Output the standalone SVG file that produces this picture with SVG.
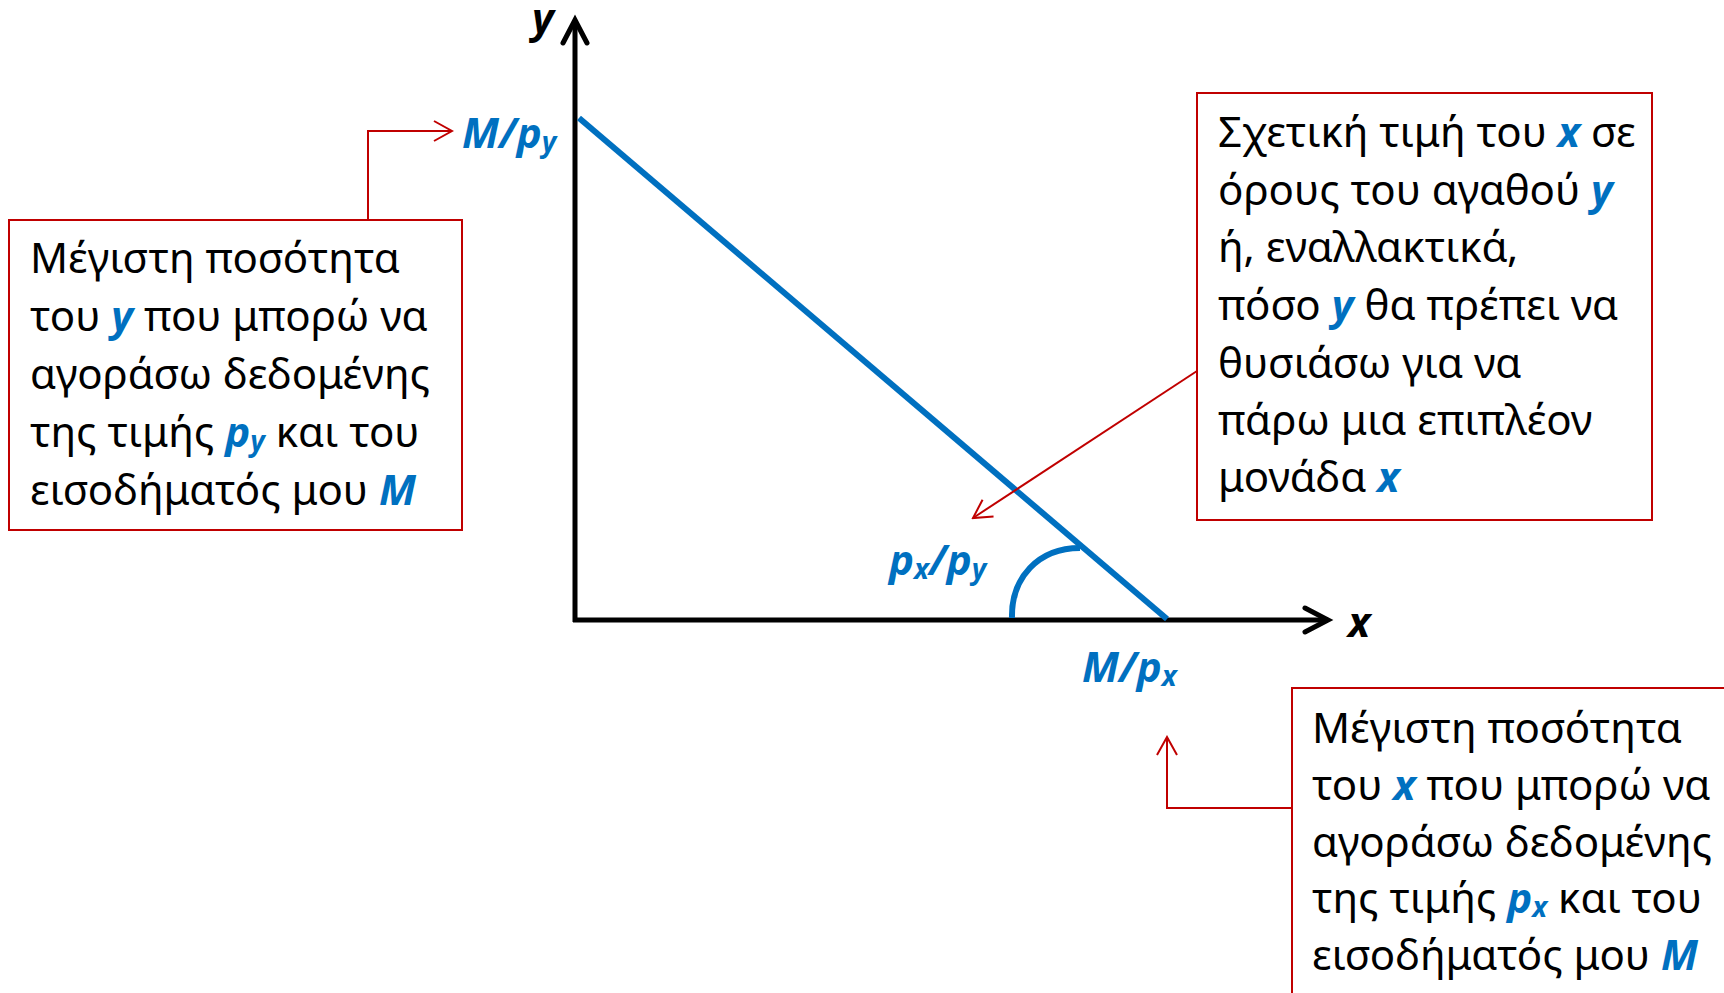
<svg xmlns="http://www.w3.org/2000/svg" width="1724" height="993" viewBox="0 0 1724 993">
<style>
.body{font-family:"Noto Sans","Liberation Sans",sans-serif;font-size:42px;fill:#000}
.v{font-family:"Noto Sans","Liberation Sans",sans-serif;font-weight:bold;font-style:italic;fill:#0070C0}
.sub{font-size:28px}
.lbl{font-family:"Noto Sans","Liberation Sans",sans-serif;font-weight:bold;font-style:italic;font-size:42px;fill:#0070C0}
.ax{font-family:"Noto Sans","Liberation Sans",sans-serif;font-weight:bold;font-style:italic;font-size:42px;fill:#000}
.box{fill:#fff;stroke:#C00000;stroke-width:2}
.red{fill:none;stroke:#C00000;stroke-width:2}
.axis{fill:none;stroke:#000;stroke-width:5}
.blue{fill:none;stroke:#0070C0;stroke-width:6}
</style>
<defs>
<marker id="ra" markerUnits="userSpaceOnUse" markerWidth="22" markerHeight="24" viewBox="0 0 22 24" refX="20" refY="12" orient="auto">
<path d="M2,2 L20,12 L2,22" fill="none" stroke="#C00000" stroke-width="2"/>
</marker>
<marker id="ka" markerUnits="userSpaceOnUse" markerWidth="34" markerHeight="34" viewBox="0 0 34 34" refX="28" refY="17" orient="auto">
<path d="M5,5 L28,17 L5,29" fill="none" stroke="#000" stroke-width="5" stroke-linecap="round"/>
</marker>
</defs>
<rect width="1724" height="993" fill="#fff"/>

<g id="axes">
<line class="axis" x1="575" y1="622" x2="575" y2="20" marker-end="url(#ka)"/>
<line class="axis" x1="573" y1="620" x2="1328" y2="620" marker-end="url(#ka)"/>
<text class="ax" x="532" y="33">y</text>
<text class="ax" x="1348" y="637">x</text>
</g>

<g id="budget-line">
<line class="blue" x1="579" y1="118" x2="1167" y2="619"/>
<path class="blue" d="M1012,618 C1011,578 1038,548 1080,548"/>
</g>

<g id="label-mpy">
<text class="lbl" x="462" y="148">M/p<tspan class="sub" dy="4">y</tspan></text>
</g>
<g id="label-pxpy">
<text class="lbl" x="889" y="575">p<tspan class="sub" dy="4">x</tspan><tspan dy="-4">/p</tspan><tspan class="sub" dy="4">y</tspan></text>
</g>
<g id="label-mpx">
<text class="lbl" x="1082" y="682">M/p<tspan class="sub" dy="4">x</tspan></text>
</g>

<g id="connectors">
<polyline class="red" points="281,220 368,220 368,131 452,131" marker-end="url(#ra)"/>
<line class="red" x1="1197" y1="371" x2="973" y2="518" marker-end="url(#ra)"/>
<polyline class="red" points="1292,883 1292,808 1167,808 1167,737" marker-end="url(#ra)"/>
</g>

<g id="box-left">
<rect class="box" x="9" y="220" width="453" height="310"/>
<text class="body" x="30" y="273">Μέγιστη ποσότητα</text>
<text class="body" x="30" y="331">του <tspan class="v">y</tspan> που μπορώ να</text>
<text class="body" x="30" y="389">αγοράσω δεδομένης</text>
<text class="body" x="30" y="447">της τιμής <tspan class="v">p</tspan><tspan class="v sub" dy="4">y</tspan><tspan dy="-4"> και του</tspan></text>
<text class="body" x="30" y="505">εισοδήματός μου <tspan class="v">M</tspan></text>
</g>

<g id="box-right">
<rect class="box" x="1197" y="93" width="455" height="427"/>
<text class="body" x="1218" y="147">Σχετική τιμή του <tspan class="v">x</tspan> σε</text>
<text class="body" x="1218" y="205">όρους του αγαθού <tspan class="v">y</tspan></text>
<text class="body" x="1218" y="262">ή, εναλλακτικά,</text>
<text class="body" x="1218" y="320">πόσο <tspan class="v">y</tspan> θα πρέπει να</text>
<text class="body" x="1218" y="378">θυσιάσω για να</text>
<text class="body" x="1218" y="435">πάρω μια επιπλέον</text>
<text class="body" x="1218" y="492">μονάδα <tspan class="v">x</tspan></text>
</g>

<g id="box-bottom">
<rect class="box" x="1292" y="688" width="460" height="330"/>
<text class="body" x="1312" y="743">Μέγιστη ποσότητα</text>
<text class="body" x="1312" y="800">του <tspan class="v">x</tspan> που μπορώ να</text>
<text class="body" x="1312" y="857">αγοράσω δεδομένης</text>
<text class="body" x="1312" y="913">της τιμής <tspan class="v">p</tspan><tspan class="v sub" dy="4">x</tspan><tspan dy="-4"> και του</tspan></text>
<text class="body" x="1312" y="970">εισοδήματός μου <tspan class="v">M</tspan></text>
</g>
</svg>
